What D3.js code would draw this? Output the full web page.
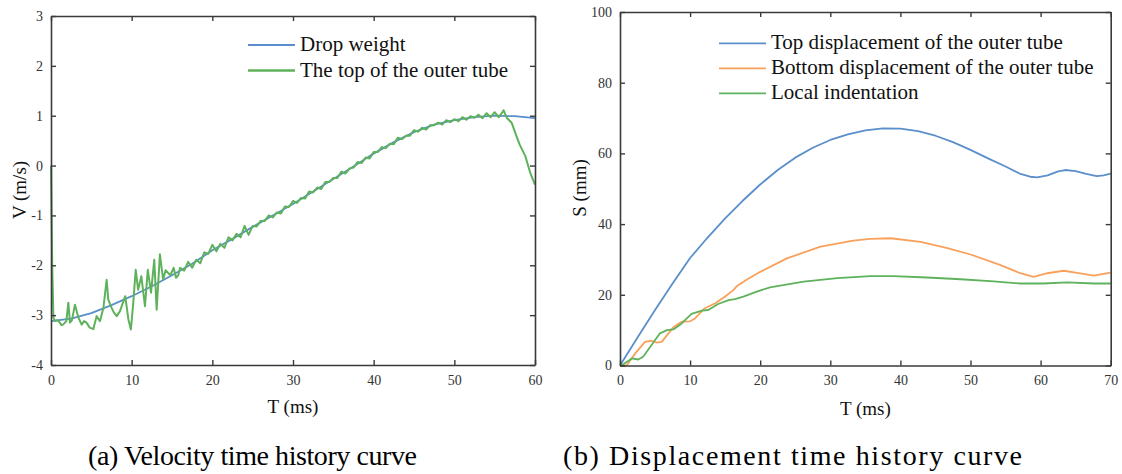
<!DOCTYPE html>
<html>
<head>
<meta charset="utf-8">
<script src="https://cdn.jsdelivr.net/npm/d3@7"></script>
<style>
  body { margin: 0; background: #fff; }
  svg text { font-family: "Liberation Serif", "Times New Roman", serif; }
</style>
</head>
<body>
<svg id="chart" width="1122" height="474"></svg>
<script>
// (a) velocity, drop weight (smooth)
var dropT = [0, 2.5, 5, 7.5, 10, 12.5, 15, 17.5, 20, 22.5, 25, 27.5, 30, 32.5, 35, 37.5, 40, 42.5, 45, 47.5, 50, 52.5, 55, 57.5, 60];
var dropV = [-3.12, -3.07, -2.96, -2.8, -2.62, -2.42, -2.2, -1.97, -1.7, -1.47, -1.23, -1.0, -0.77, -0.52, -0.27, -0.02, 0.24, 0.47, 0.67, 0.82, 0.91, 0.97, 1.0, 0.99, 0.95];

// (a) velocity, top of the outer tube (measured, noisy)
var tubeT = [0, 0.15, 0.3, 0.5, 0.8, 1.1, 1.3, 1.5, 1.9, 2.15, 2.35, 2.6, 2.97, 3.4, 3.8, 4.1, 4.4, 4.8, 5.25, 5.65, 6.07, 6.5, 6.9, 7.1, 7.5, 7.8, 8.15, 8.55, 9.2, 9.6, 9.9, 10.2, 10.5, 10.8, 11.2, 11.65, 12, 12.4, 12.8, 13.1, 13.5, 13.9, 14.2, 14.5, 14.8, 15.2, 15.5, 15.8,
  16, 16.5, 17, 17.5, 18, 18.5, 19, 19.5, 20, 20.5, 21, 21.5, 22, 22.5, 23, 23.5, 24, 24.5, 25, 25.5,
  26, 26.5, 27, 27.5, 28, 28.5, 29, 29.5, 30, 30.5, 31, 31.5, 32, 32.5, 33, 33.5, 34, 34.5, 35, 35.5,
  36, 36.5, 37, 37.5, 38, 38.5, 39, 39.5, 40, 40.5, 41, 41.5, 42, 42.5, 43, 43.5, 44, 44.5, 45, 45.5,
  46, 46.5, 47, 47.5, 48, 48.5, 49, 49.5, 50, 50.5, 51, 51.5, 52, 52.5, 53, 53.5, 54, 54.5, 55, 55.5,
  56, 56.1, 56.5, 57.1, 57.7, 58.1, 58.8, 59.4, 60];
var tubeV = [0, -2.0, -3.05, -3.12, -3.1, -3.15, -3.2, -3.19, -3.12, -2.75, -3.15, -3.1, -2.79, -3.05, -3.19, -3.12, -3.15, -3.25, -3.28, -3.02, -3.12, -2.85, -2.29, -2.69, -2.85, -2.95, -3.02, -2.92, -2.62, -3.09, -3.29, -2.75, -2.09, -2.49, -2.22, -2.82, -2.09, -2.55, -1.89, -2.89, -1.78, -2.29, -2.1, -2.15, -2.2, -2.05, -2.25, -2.19,
  -2.05, -2.11, -1.93, -2.05, -1.89, -1.96, -1.74, -1.77, -1.59, -1.72, -1.57, -1.65, -1.44, -1.5, -1.37, -1.44, -1.21, -1.39, -1.21, -1.22,
  -1.11, -1.11, -1.0, -1.04, -0.94, -0.96, -0.82, -0.83, -0.71, -0.75, -0.65, -0.66, -0.52, -0.54, -0.44, -0.47, -0.33, -0.33, -0.25, -0.25,
  -0.12, -0.16, -0.06, -0.04, 0.07, 0.05, 0.16, 0.14, 0.27, 0.27, 0.37, 0.35, 0.44, 0.43, 0.56, 0.53, 0.6, 0.6, 0.71, 0.68,
  0.76, 0.72, 0.81, 0.81, 0.86, 0.82, 0.91, 0.87, 0.93, 0.89, 0.97, 0.92, 0.99, 0.96, 1.02, 0.95, 1.05, 0.97, 1.07, 0.97,
  1.08, 1.11, 0.96, 0.86, 0.59, 0.42, 0.19, -0.14, -0.38];

// (b) displacement
var topT = [0, 2.5, 5, 7.5, 10, 12.5, 15, 17.5, 20, 22.5, 25, 27.5, 30, 32.5, 35, 37.5, 40, 42.5, 45, 47.5, 50, 52.5, 55, 57, 58.5, 59.5, 61, 62.5, 63.5, 65, 66.5, 68, 69, 70];
var topS = [0, 7.9, 15.7, 23.2, 30.4, 36.2, 41.6, 46.6, 51.2, 55.3, 58.8, 61.6, 63.8, 65.4, 66.5, 67.1, 67.0, 66.3, 65.0, 63.2, 61.0, 58.6, 56.3, 54.3, 53.4, 53.2, 53.8, 54.9, 55.3, 55.0, 54.2, 53.6, 53.8, 54.3];

var bottomT = [0, 0.95, 2.2, 3.57, 4.5, 5.2, 5.95, 7.6, 8.8, 10, 10.7, 12.1, 13.6, 15, 16.2, 16.7, 18, 20, 23.8, 28.6, 33.3, 35.7, 38.6, 42.9, 46.7, 50, 54.3, 57.1, 59, 60.95, 63.3, 65.2, 67.6, 70];
var bottomS = [0, 0, 3.5, 6.7, 7.0, 6.5, 6.7, 10.8, 12.4, 12.5, 13.3, 16.2, 17.6, 19.5, 21.4, 22.5, 24.2, 26.5, 30.3, 33.6, 35.3, 35.8, 36.0, 35.0, 33.2, 31.4, 28.4, 26.1, 25.1, 26.1, 26.8, 26.2, 25.4, 26.3];

var indentT = [0, 0.2, 1.7, 2.6, 3.3, 4.5, 5.7, 6.7, 7.6, 8.8, 10.2, 11.7, 12.6, 14.0, 15.5, 16.4, 17.6, 19.5, 21.4, 26.2, 31, 35.7, 39, 43.8, 48.6, 53.3, 57.1, 60.4, 63.8, 67.6, 70];
var indentS = [0, 0, 2.0, 1.7, 2.5, 5.8, 9.1, 10.0, 10.2, 11.9, 14.6, 15.5, 15.7, 17.4, 18.5, 18.8, 19.5, 20.9, 22.1, 23.7, 24.7, 25.3, 25.3, 24.9, 24.4, 23.8, 23.2, 23.2, 23.5, 23.2, 23.2];

var velTicksX = [0, 10, 20, 30, 40, 50, 60];
var velTicksY = [3, 2, 1, 0, -1, -2, -3, -4];
var disTicksX = [0, 10, 20, 30, 40, 50, 60, 70];
var disTicksY = [0, 20, 40, 60, 80, 100];

var blue = "#5b8fcb", orange = "#f9a15c", green = "#5fb25c";
var axisColor = "#3a3a3a";

var svg = d3.select("#chart");

function zip(ts, vs) {
  return ts.map(function (t, i) { return [t, vs[i]]; });
}

function panel(opt) {
  var x = d3.scaleLinear().domain(opt.xDomain).range([opt.left, opt.right]);
  var y = d3.scaleLinear().domain(opt.yDomain).range([opt.bottom, opt.top]);
  var g = svg.append("g");

  var line = d3.line()
    .x(function (d) { return x(d[0]); })
    .y(function (d) { return y(d[1]); });

  opt.series.forEach(function (s) {
    g.append("path")
      .attr("d", line(s.data))
      .attr("fill", "none")
      .attr("stroke", s.color)
      .attr("stroke-width", s.width)
      .attr("stroke-linejoin", "round");
  });

  function style(sel, showText) {
    sel.select(".domain").attr("stroke", axisColor).attr("stroke-width", 1.6);
    sel.selectAll(".tick line").attr("stroke", axisColor).attr("stroke-width", 1.4);
    sel.selectAll(".tick text")
      .attr("fill", "#333")
      .style("font-size", "14px")
      .style("font-family", "Liberation Serif, serif");
    if (!showText) sel.selectAll(".tick text").remove();
  }

  var fmt = function (d) { return String(d); };

  g.append("g").attr("transform", "translate(0," + opt.bottom + ")")
    .call(d3.axisBottom(x).tickValues(opt.xTicks).tickFormat(fmt).tickSize(-5).tickSizeOuter(0).tickPadding(10))
    .call(style, true);
  g.append("g").attr("transform", "translate(0," + opt.top + ")")
    .call(d3.axisTop(x).tickValues(opt.xTicks).tickSize(-5).tickSizeOuter(0))
    .call(style, false);
  g.append("g").attr("transform", "translate(" + opt.left + ",0)")
    .call(d3.axisLeft(y).tickValues(opt.yTicks).tickFormat(fmt).tickSize(-5).tickSizeOuter(0).tickPadding(8))
    .call(style, true);
  g.append("g").attr("transform", "translate(" + opt.right + ",0)")
    .call(d3.axisRight(y).tickValues(opt.yTicks).tickSize(-5).tickSizeOuter(0))
    .call(style, false);

  // axis titles
  g.append("text")
    .attr("x", (opt.left + opt.right) / 2)
    .attr("y", opt.xTitleY)
    .attr("text-anchor", "middle")
    .style("font-size", "19px")
    .attr("fill", "#111")
    .text(opt.xTitle);
  g.append("text")
    .attr("transform", "translate(" + opt.yTitleX + "," + opt.yTitleY + ") rotate(-90)")
    .attr("text-anchor", "middle")
    .style("font-size", "19px")
    .attr("fill", "#111")
    .text(opt.yTitle);

  // legend
  opt.series.forEach(function (s, i) {
    var ly = opt.legendY + i * opt.legendGap;
    g.append("line")
      .attr("x1", opt.legendX).attr("x2", opt.legendX + 47)
      .attr("y1", ly).attr("y2", ly)
      .attr("stroke", s.color).attr("stroke-width", s.legendWidth || s.width);
    g.append("text")
      .attr("x", opt.legendX + 52)
      .attr("y", ly + 6)
      .style("font-size", "21px")
      .attr("fill", "#111")
      .text(s.name);
  });

  // caption
  svg.append("text")
    .attr("x", opt.captionX)
    .attr("y", 465)
    .attr("textLength", opt.captionW)
    .attr("lengthAdjust", "spacing")
    .style("font-size", "28px")
    .attr("fill", "#000")
    .text(opt.caption);
}

panel({
  left: 51, right: 535, top: 16, bottom: 365,
  xDomain: [0, 60], yDomain: [-4, 3],
  xTicks: velTicksX, yTicks: velTicksY,
  xTitle: "T (ms)", xTitleY: 413,
  yTitle: "V (m/s)", yTitleX: 26, yTitleY: 190,
  legendX: 248, legendY: 45, legendGap: 25.5,
  caption: "(a) Velocity time history curve", captionX: 88, captionW: 329,
  series: [
    { name: "Drop weight", data: zip(dropT, dropV), color: blue, width: 1.8 },
    { name: "The top of the outer tube", data: zip(tubeT, tubeV), color: green, width: 2, legendWidth: 2.6 }
  ]
});

panel({
  left: 620, right: 1110.7, top: 12, bottom: 365.5,
  xDomain: [0, 70], yDomain: [0, 100],
  xTicks: disTicksX, yTicks: disTicksY,
  xTitle: "T (ms)", xTitleY: 415,
  yTitle: "S (mm)", yTitleX: 586, yTitleY: 188,
  legendX: 719, legendY: 43.3, legendGap: 25,
  caption: "(b) Displacement time history curve", captionX: 563, captionW: 459,
  series: [
    { name: "Top displacement of the outer tube", data: zip(topT, topS), color: blue, width: 1.8 },
    { name: "Bottom displacement of the outer tube", data: zip(bottomT, bottomS), color: orange, width: 1.8 },
    { name: "Local indentation", data: zip(indentT, indentS), color: green, width: 1.8 }
  ]
});
</script>
</body>
</html>
